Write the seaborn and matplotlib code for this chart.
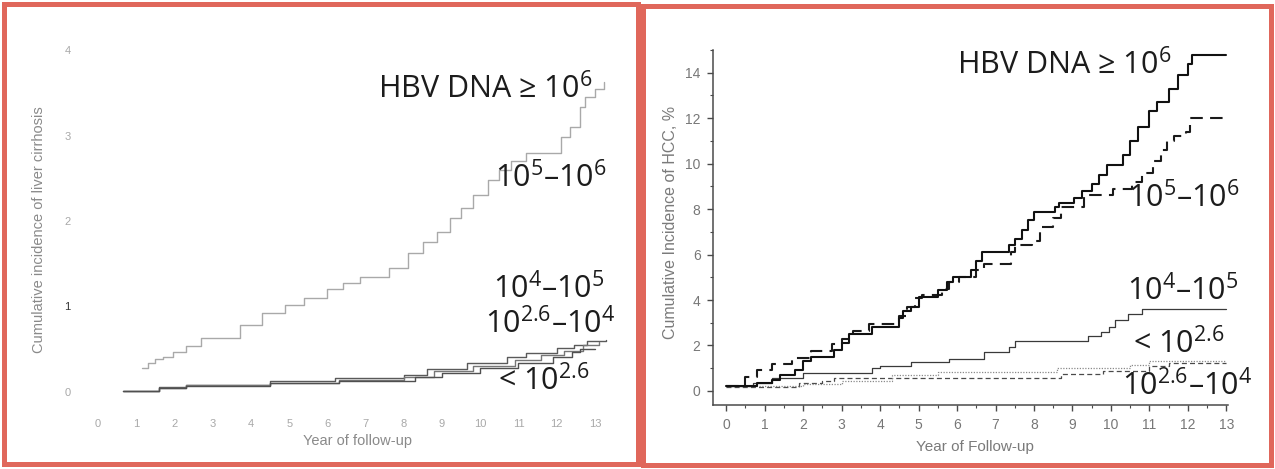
import matplotlib
matplotlib.use("Agg")
import matplotlib.pyplot as plt
import pandas as pd
import seaborn as sns
from matplotlib.patches import Rectangle
from matplotlib.ticker import MultipleLocator

# ---- Liver cirrhosis (left panel): years of follow-up, cumulative incidence ----
cir_high_t = [1.15, 1.3, 1.5, 1.7, 1.97, 2.3, 2.7, 3.7, 4.3, 4.9, 5.4, 6.0, 6.4, 6.86,
              7.6, 8.1, 8.5, 8.87, 9.2, 9.5, 9.8, 10.2, 10.5, 10.8, 11.2, 12.1, 12.35,
              12.6, 12.75, 13.0, 13.25]
cir_high_v = [0.28, 0.34, 0.38, 0.41, 0.47, 0.54, 0.63, 0.78, 0.92, 1.02, 1.1, 1.2, 1.27,
              1.35, 1.45, 1.62, 1.75, 1.87, 2.03, 2.15, 2.3, 2.48, 2.6, 2.7, 2.8, 2.98,
              3.1, 3.33, 3.45, 3.55, 3.63]
cir_e4_t = [0.65, 1.6, 2.3, 4.5, 6.2, 8.0, 8.6, 9.65, 10.7, 11.2, 12.0, 12.45, 12.8, 13.3]
cir_e4_v = [0.01, 0.06, 0.08, 0.13, 0.16, 0.2, 0.27, 0.34, 0.41, 0.45, 0.51, 0.55, 0.59, 0.61]
cir_e26_t = [0.65, 1.6, 2.3, 4.5, 6.3, 8.0, 8.8, 9.8, 10.9, 11.6, 12.2, 12.7, 13.1]
cir_e26_v = [0.01, 0.05, 0.08, 0.1, 0.14, 0.18, 0.24, 0.3, 0.37, 0.43, 0.48, 0.55, 0.58]
cir_low_t = [0.65, 1.6, 2.3, 4.5, 6.3, 8.3, 9.0, 10.0, 11.0, 11.9, 12.4, 12.6, 13.0]
cir_low_v = [0.01, 0.05, 0.07, 0.1, 0.13, 0.18, 0.22, 0.28, 0.34, 0.41, 0.47, 0.5, 0.5]

cir_xticks = list(range(14))
cir_xticklabels = [str(i) for i in cir_xticks]
cir_yticks = [0, 1, 2, 3, 4]

# ---- HCC (right panel): years of follow-up, cumulative incidence (%) ----
hcc_e6_t = [0, 0.8, 1.2, 1.4, 1.8, 2.0, 2.2, 2.8, 3.0, 3.2, 3.8, 4.5, 4.6, 4.8, 5.0,
            5.5, 5.75, 5.9, 6.35, 6.5, 6.65, 7.35, 7.5, 7.7, 7.85, 8.0, 8.55, 8.65,
            9.05, 9.25, 9.5, 9.7, 9.9, 10.3, 10.5, 10.7, 11.0, 11.2, 11.5, 11.75,
            12.0, 12.1, 13.0]
hcc_e6_v = [0.2, 0.35, 0.5, 0.7, 0.9, 1.3, 1.5, 1.8, 2.1, 2.5, 2.8, 3.2, 3.5, 3.7, 4.15,
            4.45, 4.8, 5.0, 5.3, 5.7, 6.1, 6.4, 6.7, 7.1, 7.5, 7.85, 8.1, 8.25,
            8.5, 8.8, 9.1, 9.5, 9.95, 10.4, 11.0, 11.6, 12.3, 12.7, 13.3, 13.9,
            14.4, 14.8, 14.8]
hcc_e5_t = [0, 0.5, 0.8, 1.2, 1.7, 2.2, 2.75, 3.0, 3.3, 3.7, 4.5, 4.7, 4.9, 5.1, 5.6,
            5.8, 6.05, 6.5, 6.7, 7.4, 7.5, 7.95, 8.15, 8.5, 8.7, 9.3, 10.05, 10.55,
            10.8, 11.1, 11.3, 11.45, 11.65, 11.95, 12.05, 13.0]
hcc_e5_v = [0.2, 0.6, 0.9, 1.2, 1.45, 1.75, 2.05, 2.3, 2.65, 2.95, 3.3, 3.7, 4.1, 4.2, 4.5,
            4.8, 5.0, 5.3, 5.6, 6.1, 6.4, 6.6, 7.2, 7.6, 8.1, 8.6, 8.9, 9.2,
            9.6, 10.1, 10.6, 11.0, 11.2, 11.4, 12.0, 12.0]
hcc_e4_t = [0, 0.7, 1.2, 2.0, 3.8, 4.0, 4.8, 5.8, 6.7, 7.35, 7.5, 9.4, 9.75, 9.95, 10.1,
            10.45, 10.8, 13.0]
hcc_e4_v = [0.2, 0.35, 0.55, 0.8, 1.0, 1.1, 1.25, 1.4, 1.7, 1.95, 2.2, 2.4, 2.6, 2.8, 3.1,
            3.4, 3.6, 3.6]
hcc_low_t = [0, 2.0, 3.0, 4.3, 5.5, 8.6, 10.5, 11.0, 13.0]
hcc_low_v = [0.2, 0.3, 0.45, 0.7, 0.85, 1.0, 1.15, 1.3, 1.3]
hcc_e26_t = [0, 1.9, 2.5, 2.8, 8.7, 9.8, 11.0, 11.5, 13.0]
hcc_e26_v = [0.15, 0.35, 0.45, 0.57, 0.75, 0.88, 1.1, 1.23, 1.23]

hcc_xticks = list(range(14))
hcc_yticks = list(range(0, 15, 2))

# Group labels
lab_high = "HBV DNA \u2265 $10^{6}$"
lab_e5 = "$10^{5}$\u2013$10^{6}$"
lab_e4 = "$10^{4}$\u2013$10^{5}$"
lab_e26 = "$10^{2.6}$\u2013$10^{4}$"
lab_low = "< $10^{2.6}$"

sns.set_theme(style="ticks")
plt.rcParams["font.family"] = ["Liberation Sans", "DejaVu Sans"]
plt.rcParams["mathtext.fontset"] = "custom"
plt.rcParams["mathtext.rm"] = "Open Sans"
plt.rcParams["mathtext.it"] = "Open Sans:italic"
plt.rcParams["mathtext.bf"] = "Open Sans:bold"
plt.rcParams["mathtext.default"] = "rm"

W, H = 1275, 469
fig = plt.figure(figsize=(W / 100, H / 100), dpi=100)
fig.patch.set_facecolor("white")


def box(x0, y0, x1, y1):
    return [x0 / W, 1 - y1 / H, (x1 - x0) / W, (y1 - y0) / H]


def km(ax, t, v, **kw):
    df = pd.DataFrame({"year": t, "inc": v})
    sns.lineplot(data=df, x="year", y="inc", ax=ax, estimator=None, sort=False,
                 drawstyle="steps-post", **kw)


ann_family = ["Open Sans", "DejaVu Sans"]


def tag(ax, x, y, s):
    ax.text(x, y, s, fontsize=22, family=ann_family, color="#1c1c1c",
            ha="left", va="baseline", clip_on=False)


# Red frames around the two panels
for (x0, y0, x1, y1) in [(4, 4, 638, 464), (643, 6, 1271, 465)]:
    fig.patches.append(Rectangle((x0 / W, 1 - y1 / H), (x1 - x0) / W, (y1 - y0) / H,
                                 transform=fig.transFigure, fill=False,
                                 edgecolor="#e0675b", linewidth=3.6, zorder=10))

# ---------------- Left panel: liver cirrhosis ----------------
ax1 = fig.add_axes(box(79, 33, 614, 409))
km(ax1, cir_high_t, cir_high_v, color="#a9a9a9", linewidth=1.0)
km(ax1, cir_e4_t, cir_e4_v, color="#5a5a5a", linewidth=1.0)
km(ax1, cir_e26_t, cir_e26_v, color="#777777", linewidth=1.0)
km(ax1, cir_low_t, cir_low_v, color="#505050", linewidth=1.0)
ax1.set_xlim(-0.5, 13.5)
ax1.set_ylim(-0.2, 4.2)
ax1.set_xticks(cir_xticks)
ax1.set_xticklabels(cir_xticklabels)
ax1.set_yticks(cir_yticks)
ax1.tick_params(length=0, labelsize=8, labelcolor="#a8a8a8")
ax1.tick_params(axis="x", pad=7)
ax1.tick_params(axis="y", pad=6)
ax1.get_yticklabels()[1].set_color("#333333")
for s in ax1.spines.values():
    s.set_visible(False)
ax1.set_xlabel("Year of follow-up", fontsize=10.5, color="#8a8a8a")
ax1.set_ylabel("Cumulative incidence of liver cirrhosis", fontsize=10.5, color="#8a8a8a")
ax1.xaxis.set_label_coords(0.52, -0.066)
ax1.yaxis.set_label_coords(-0.062, 0.476)
ax1.set_facecolor("white")

tag(ax1, 7.33, 3.45, lab_high)
tag(ax1, 10.39, 2.39, lab_e5)
tag(ax1, 10.34, 1.10, lab_e4)
tag(ax1, 10.13, 0.69, lab_e26)
tag(ax1, 10.47, 0.02, lab_low)

# ---------------- Right panel: HCC ----------------
ax2 = fig.add_axes(box(713, 50, 1228, 405))
km(ax2, hcc_e26_t, hcc_e26_v, color="#4a4a4a", linewidth=0.9, linestyle=(0, (4, 2.5)))
km(ax2, hcc_low_t, hcc_low_v, color="#8a8a8a", linewidth=0.9, linestyle=(0, (1, 1.2)))
km(ax2, hcc_e4_t, hcc_e4_v, color="#3a3a3a", linewidth=0.9)
km(ax2, hcc_e5_t, hcc_e5_v, color="#1a1a1a", linewidth=1.5, linestyle=(0, (6, 3.5)))
km(ax2, hcc_e6_t, hcc_e6_v, color="#111111", linewidth=1.5)
ax2.set_xlim(-0.34, 13.04)
ax2.set_ylim(-0.62, 15.0)
ax2.set_xticks(hcc_xticks)
ax2.set_yticks(hcc_yticks)
ax2.xaxis.set_minor_locator(MultipleLocator(0.5))
ax2.yaxis.set_minor_locator(MultipleLocator(1))
sns.despine(ax=ax2)
for s in ("left", "bottom"):
    ax2.spines[s].set_color("#4a4a4a")
    ax2.spines[s].set_linewidth(1.1)
ax2.tick_params(which="major", length=4, width=1, color="#4a4a4a", labelsize=10,
                labelcolor="#777777", pad=5)
ax2.tick_params(which="minor", length=2.5, width=0.8, color="#4a4a4a")
ax2.set_xlabel("Year of Follow-up", fontsize=11, color="#7a7a7a")
ax2.set_ylabel("Cumulative Incidence of HCC, %", fontsize=11.5, color="#7a7a7a")
ax2.xaxis.set_label_coords(0.509, -0.098)
ax2.yaxis.set_label_coords(-0.068, 0.515)
ax2.set_facecolor("white")

tag(ax2, 6.0, 13.96, lab_high)
tag(ax2, 10.44, 8.06, lab_e5)
tag(ax2, 10.42, 4.0, lab_e4)
tag(ax2, 10.57, 1.67, lab_low)
tag(ax2, 10.29, -0.18, lab_e26)

fig.savefig("out.png", dpi=100, facecolor="white")
